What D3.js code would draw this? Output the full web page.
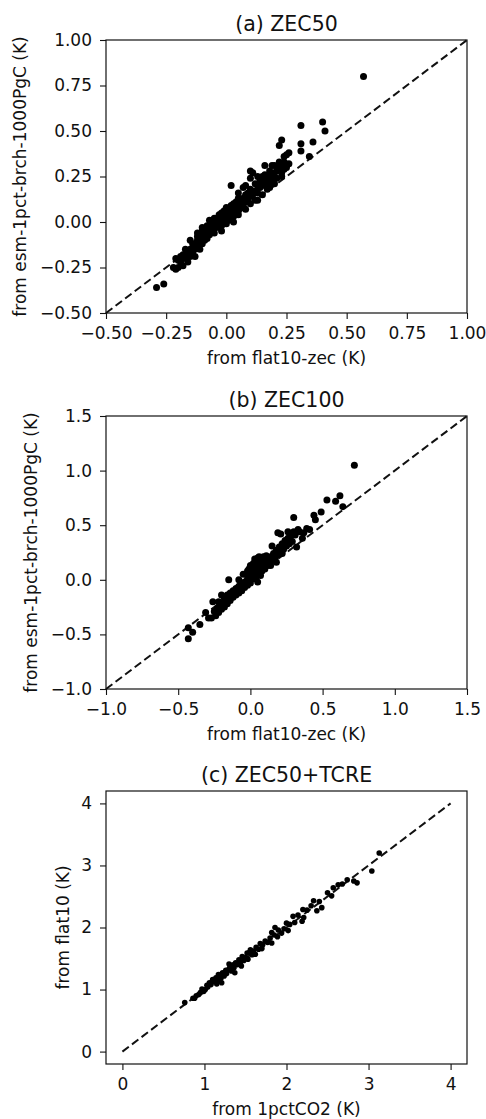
<!DOCTYPE html>
<meta charset="utf-8">
<script src="https://d3js.org/d3.v7.min.js"></script>
<style>
  body { margin: 0; background: #fff; }
  text { font-family: "DejaVu Sans", sans-serif; fill: #111; }
</style>
<svg id="fig" width="486" height="1119"></svg>
<script>

// ---- data ----
// (a) ZEC50 : [from flat10-zec, from esm-1pct-brch-1000PgC]
var zec50 = [
  [0.57,0.80],[0.40,0.55],[0.41,0.50],[0.31,0.53],[0.36,0.44],[0.31,0.43],[0.31,0.39],[0.345,0.36],
  [0.23,0.45],[0.22,0.42],[0.26,0.38],[0.25,0.37],[0.24,0.36],[-0.29,-0.36],[-0.26,-0.34],[-0.21,-0.20],
  [-0.21,-0.26],[0.02,0.20],[0.10,0.28],[0.11,0.27],[0.16,0.31],[-0.10,-0.03],[-0.12,-0.08],
  [-0.22,-0.25],[-0.20,-0.25],[-0.19,-0.22],[-0.18,-0.18],[-0.18,-0.24],[-0.17,-0.20],[-0.16,-0.17],
  [-0.16,-0.22],[-0.15,-0.19],[-0.15,-0.15],[-0.14,-0.17],[-0.14,-0.12],[-0.13,-0.15],[-0.13,-0.19],
  [-0.12,-0.13],[-0.12,-0.10],[-0.11,-0.15],[-0.11,-0.11],[-0.10,-0.12],[-0.10,-0.08],[-0.09,-0.10],
  [-0.09,-0.06],[-0.08,-0.09],[-0.08,-0.05],[-0.07,-0.07],[-0.07,-0.03],[-0.06,-0.05],[-0.06,-0.01],
  [-0.05,-0.06],[-0.05,-0.02],[-0.05,0.02],[-0.04,-0.03],[-0.04,0.01],[-0.03,-0.01],[-0.03,0.03],
  [-0.02,-0.02],[-0.02,0.02],[-0.02,0.05],[-0.01,0.00],[-0.01,0.03],[0.00,-0.01],[0.00,0.02],[0.00,0.05],
  [0.01,0.01],[0.01,0.04],[0.01,0.07],[0.02,0.02],[0.02,0.05],[0.03,0.03],[0.03,0.07],[0.03,0.10],
  [0.04,0.05],[0.04,0.08],[0.05,0.06],[0.05,0.10],[0.05,0.13],[0.06,0.08],[0.06,0.11],[0.07,0.09],
  [0.07,0.13],[0.07,0.19],[0.08,0.11],[0.08,0.15],[0.09,0.12],[0.09,0.16],[0.10,0.14],[0.10,0.18],
  [0.11,0.15],[0.12,0.17],[0.12,0.21],[0.13,0.16],[0.13,0.20],[0.14,0.19],[0.14,0.23],[0.15,0.20],
  [0.16,0.22],[0.16,0.26],[0.17,0.21],[0.17,0.24],[0.18,0.25],[0.18,0.28],[0.19,0.24],[0.20,0.27],
  [0.20,0.31],[0.21,0.28],[0.22,0.30],[0.22,0.33],[0.23,0.27],[0.23,0.31],[0.24,0.29],[0.24,0.33],
  [0.25,0.30],[0.26,0.32],[0.23,0.25],[0.19,0.31],[0.15,0.25],[-0.01,0.06],[-0.03,0.04],[0.04,0.11],
  [0.02,0.09],[-0.07,0.01],[-0.15,-0.10],[-0.17,-0.15],[-0.19,-0.19],[-0.20,-0.21],
  [0.05,0.04],[0.08,0.07],[0.10,0.10],[0.12,0.12],[0.15,0.15],[0.17,0.18],[0.20,0.21],[0.13,0.12],
  [0.18,0.19],[0.10,0.24],[0.13,0.25],[0.05,0.16],[0.08,0.20],[-0.10,-0.05],[-0.12,-0.06],[-0.08,-0.02],
  [0.00,0.08],[-0.02,-0.05],[0.03,0.00],[0.21,0.24],[0.19,0.22]
];

// (b) ZEC100
var zec100 = [
  [0.72,1.05],[0.53,0.73],[0.59,0.72],[0.62,0.77],[0.64,0.67],[0.49,0.62],[0.44,0.59],[0.45,0.55],
  [0.30,0.57],[0.19,0.43],[0.21,0.42],[0.15,0.31],[0.41,0.46],[0.36,0.38],[0.32,0.30],[0.30,0.44],
  [0.33,0.46],[0.26,0.44],[-0.15,0.00],[-0.26,-0.20],[-0.43,-0.54],[-0.40,-0.48],[-0.43,-0.44],
  [-0.35,-0.41],[-0.29,-0.35],[-0.31,-0.30],[-0.27,-0.35],
  [-0.25,-0.29],[-0.24,-0.33],[-0.23,-0.26],[-0.22,-0.30],[-0.21,-0.23],[-0.20,-0.27],[-0.19,-0.21],
  [-0.18,-0.25],[-0.18,-0.17],[-0.17,-0.20],[-0.16,-0.14],[-0.16,-0.22],[-0.15,-0.17],[-0.14,-0.12],
  [-0.14,-0.19],[-0.13,-0.14],[-0.12,-0.10],[-0.12,-0.16],[-0.11,-0.12],[-0.10,-0.08],[-0.10,-0.14],
  [-0.09,-0.10],[-0.08,-0.06],[-0.08,-0.12],[-0.07,-0.08],[-0.06,-0.04],[-0.06,-0.10],[-0.05,-0.06],
  [-0.04,-0.02],[-0.04,-0.07],[-0.03,-0.03],[-0.02,0.01],[-0.02,-0.05],[-0.01,0.04],[-0.01,-0.01],
  [0.00,0.02],[0.00,0.08],[0.00,-0.03],[0.01,0.05],[0.01,0.11],[0.02,0.01],[0.02,0.07],[0.03,0.13],
  [0.03,0.04],[0.04,0.09],[0.04,0.02],[0.05,0.06],[0.05,0.12],[0.06,0.16],[0.06,0.09],[0.07,0.04],
  [0.07,0.12],[0.08,0.18],[0.08,0.08],[0.09,0.14],[0.10,0.10],[0.10,0.17],[0.11,0.20],[0.12,0.13],
  [0.12,0.18],[0.13,0.16],[0.14,0.21],[0.15,0.18],[0.16,0.24],[0.17,0.20],[0.18,0.27],[0.19,0.23],
  [0.20,0.30],[0.21,0.25],[0.22,0.33],[0.23,0.28],[0.24,0.36],[0.25,0.31],[0.26,0.38],[0.27,0.33],
  [0.28,0.40],[0.29,0.35],[0.31,0.41],[0.34,0.44],[0.37,0.43],[0.39,0.47],[0.05,0.20],[0.06,0.21],
  [-0.20,-0.14],[-0.22,-0.20],
  [0.00,0.13],[-0.01,0.10],[0.02,0.15],[0.03,0.19],[0.04,0.17],[-0.02,0.08],[0.05,-0.02],[0.09,0.21],
  [0.11,0.22],[-0.05,0.05],[-0.08,0.00],[0.14,0.13],[0.18,0.16],[0.22,0.24]
];

// (c) ZEC50+TCRE : [from 1pctCO2, from flat10]
var zecTcre = [
  [3.13,3.20],[3.04,2.91],[2.86,2.72],[2.82,2.75],[2.74,2.77],[2.68,2.70],[2.63,2.69],[2.57,2.64],
  [2.55,2.51],[2.50,2.56],[2.43,2.32],[2.40,2.42],[2.33,2.43],[2.37,2.27],[2.30,2.35],[2.25,2.28],
  [2.20,2.29],[2.19,2.10],[2.14,2.20],[2.08,2.18],[2.10,2.08],[2.04,2.05],[2.00,2.07],[1.97,1.98],
  [1.94,1.91],[1.90,1.96],[1.86,2.00],[1.85,1.88],[1.82,1.92],[1.80,1.83],[1.77,1.76],[1.74,1.78],
  [1.71,1.72],[1.68,1.74],[1.66,1.65],[1.63,1.68],[1.60,1.62],[1.58,1.56],[1.55,1.60],[1.52,1.59],
  [1.50,1.52],[1.48,1.47],[1.46,1.53],[1.44,1.44],[1.42,1.48],[1.40,1.40],[1.38,1.43],[1.36,1.35],
  [1.35,1.40],[1.33,1.30],[1.31,1.36],[1.29,1.32],[1.27,1.26],[1.26,1.31],[1.24,1.22],[1.22,1.27],
  [1.20,1.18],[1.19,1.23],[1.17,1.24],[1.16,1.15],[1.14,1.19],[1.12,1.13],[1.10,1.16],[1.08,1.08],
  [1.06,1.11],[1.04,1.04],[1.03,1.07],[1.01,1.00],[0.99,0.97],[0.97,1.01],[0.95,0.95],[0.93,0.92],
  [0.90,0.90],[0.88,0.86],[0.86,0.86],[0.76,0.79],[1.45,1.38],[1.56,1.64],[1.62,1.57],[1.70,1.66],
  [1.89,1.85],[1.30,1.41],[1.53,1.49],[1.21,1.11],[1.37,1.27],[1.15,1.09],[1.82,1.75],[2.02,1.95],
  [2.21,2.16]
];

var ticksA = [-0.5, -0.25, 0, 0.25, 0.5, 0.75, 1.0];
var ticksB = [-1.0, -0.5, 0, 0.5, 1.0, 1.5];
var ticksC = [0, 1, 2, 3, 4];

var panels = [
  {title: "(a) ZEC50", data: zec50, dom: [-0.5, 1.0], ticks: ticksA, fmt: ".2f", r: 3.5, one: [-0.5, 1.0],
   top: 40, xlab: "from flat10-zec (K)", ylab: "from esm-1pct-brch-1000PgC (K)", ylabX: 26},
  {title: "(b) ZEC100", data: zec100, dom: [-1.0, 1.5], ticks: ticksB, fmt: ".1f", r: 3.5, one: [-1.0, 1.5],
   top: 416, xlab: "from flat10-zec (K)", ylab: "from esm-1pct-brch-1000PgC (K)", ylabX: 37},
  {title: "(c) ZEC50+TCRE", data: zecTcre, dom: [-0.2, 4.2], ticks: ticksC, fmt: "d", r: 2.8, one: [0, 4],
   top: 791, xlab: "from 1pctCO2 (K)", ylab: "from flat10 (K)", ylabX: 69}
];

var left = 106, right = 467, ph = 273;
var svg = d3.select("#fig");

panels.forEach(function(p) {
  var g = svg.append("g");
  var bottom = p.top + ph;
  var x = d3.scaleLinear().domain(p.dom).range([left, right]);
  var y = d3.scaleLinear().domain(p.dom).range([bottom, p.top]);

  // 1:1 line
  g.append("line")
    .attr("x1", x(p.one[0])).attr("y1", y(p.one[0]))
    .attr("x2", x(p.one[1])).attr("y2", y(p.one[1]))
    .attr("stroke", "#111").attr("stroke-width", 2)
    .attr("stroke-dasharray", "8,4");

  g.append("g").selectAll("circle")
    .data(p.data).enter().append("circle")
    .attr("cx", function(d) { return x(d[0]); })
    .attr("cy", function(d) { return y(d[1]); })
    .attr("r", p.r)
    .attr("fill", "#000");

  var xa = g.append("g").attr("transform", "translate(0," + bottom + ")")
    .call(d3.axisBottom(x).tickValues(p.ticks).tickFormat(d3.format(p.fmt)).tickSize(6).tickSizeOuter(0).tickPadding(8));
  var ya = g.append("g").attr("transform", "translate(" + left + ",0)")
    .call(d3.axisLeft(y).tickValues(p.ticks).tickFormat(d3.format(p.fmt)).tickSize(6).tickSizeOuter(0).tickPadding(8));
  [xa, ya].forEach(function(a) {
    a.select(".domain").remove();
    a.selectAll(".tick line").attr("stroke", "#111").attr("stroke-width", 1.1);
    a.selectAll(".tick text").style("font-size", "17px").attr("fill", "#111");
  });

  // frame
  g.append("rect")
    .attr("x", left).attr("y", p.top).attr("width", right - left).attr("height", ph)
    .attr("fill", "none").attr("stroke", "#111").attr("stroke-width", 1.2);

  g.append("text")
    .attr("x", (left + right) / 2).attr("y", p.top - 9)
    .attr("text-anchor", "middle").style("font-size", "20.5px")
    .text(p.title);

  g.append("text")
    .attr("x", (left + right) / 2).attr("y", bottom + 51)
    .attr("text-anchor", "middle").style("font-size", "17px")
    .text(p.xlab);

  g.append("text")
    .attr("transform", "translate(" + p.ylabX + "," + (p.top + ph / 2) + ") rotate(-90)")
    .attr("text-anchor", "middle").style("font-size", "17px")
    .text(p.ylab);
});

</script>
